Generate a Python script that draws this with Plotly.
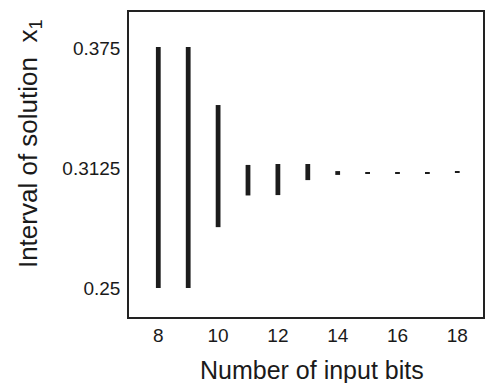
import plotly.graph_objects as go

bits = [8, 9, 10, 11, 12, 13, 14, 15, 16, 17, 18]
low = [0.25, 0.25, 0.2817, 0.2982, 0.2984, 0.3062, 0.3089, 0.3094, 0.3096, 0.3096, 0.3102]
high = [0.3755, 0.3755, 0.3453, 0.3141, 0.3146, 0.3146, 0.3109, 0.3104, 0.3101, 0.3101, 0.3107]

y_tickvals = [0.25, 0.3125, 0.375]
y_ticktext = ["0.25", "0.3125", "0.375"]
x_tickvals = [8, 10, 12, 14, 16, 18]

heights = [h - l for h, l in zip(high, low)]

FONT = "Liberation Sans, Arial, sans-serif"

fig = go.Figure()
fig.add_trace(go.Bar(
    x=bits, y=heights, base=low, width=0.16,
    marker=dict(color="#1c1c1c", line=dict(width=0)),
    showlegend=False,
))

fig.update_layout(
    width=486, height=383,
    margin=dict(l=129, r=1, t=12, b=66),
    paper_bgcolor="white", plot_bgcolor="white",
    font=dict(family=FONT, color="#1a1a1a", size=19),
    xaxis=dict(
        range=[7.02, 18.86], tickvals=x_tickvals, ticks="",
        showgrid=False, zeroline=False, showline=True, mirror=True,
        linecolor="#222", linewidth=1.5, ticklabelstandoff=0,
        tickfont=dict(size=19),
    ),
    yaxis=dict(
        range=[0.2349, 0.39375], tickvals=y_tickvals, ticktext=y_ticktext,
        ticks="", showgrid=False, zeroline=False, showline=True, mirror=True,
        linecolor="#222", linewidth=1.5, ticklabelstandoff=3,
        tickfont=dict(size=19),
    ),
    annotations=[
        dict(text="Number of input bits", xref="paper", yref="paper",
             x=0.517, y=0, yanchor="middle", xanchor="center", yshift=-53,
             showarrow=False, font=dict(size=25)),
        dict(text="Interval of solution  x<sub>1</sub>", xref="paper", yref="paper",
             x=0, y=0.567, xanchor="center", yanchor="middle", xshift=-100,
             textangle=-90, showarrow=False, font=dict(size=26)),
    ],
)

fig.write_html(
    "out.html",
    config={"displayModeBar": False},
    post_script="document.documentElement.style.margin='0';document.body.style.margin='0';document.body.style.padding='0';document.body.style.overflow='hidden';",
)
